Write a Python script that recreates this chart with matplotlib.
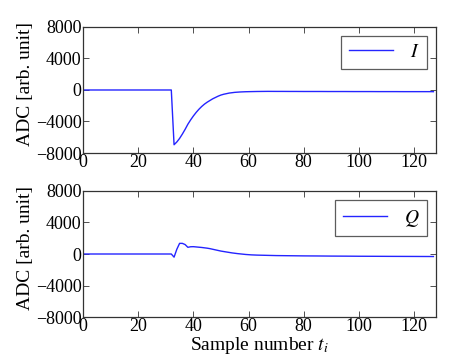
"""ADC I/Q traces vs sample number"""
import numpy as np
import matplotlib
matplotlib.use("Agg")
import matplotlib.pyplot as plt

plt.rcParams['font.family'] = ['Liberation Serif', 'DejaVu Serif']
plt.rcParams['mathtext.fontset'] = 'stix'
plt.rcParams['xtick.direction'] = 'in'
plt.rcParams['ytick.direction'] = 'in'
plt.rcParams['xtick.top'] = True
plt.rcParams['ytick.right'] = True

# sample index
samples = np.arange(128)

# I channel (arb. unit)
i_values = [0] * 33 + [
    -6950, -6600, -6150, -5600, -5000, -4350, -3800, -3300, -2850, -2450,   # 33-42
    -2100, -1800, -1550, -1330, -1120, -950, -780, -640, -540, -460,       # 43-52
    -390, -340, -300, -270, -250, -230, -220, -210, -200, -195,            # 53-62
    -190, -185, -180, -180, -175, -180, -185, -180, -175, -180,            # 63-72
    -185, -190, -185, -180, -185, -190, -195, -190, -185, -190,            # 73-82
    -195, -190, -185, -190, -195, -200, -195, -190, -195, -200,            # 83-92
    -195, -190, -195, -200, -205, -200, -195, -200, -205, -200,            # 93-102
    -195, -200, -205, -210, -205, -200, -205, -210, -205, -200,            # 103-112
    -205, -210, -215, -210, -205, -210, -215, -210, -205, -210,            # 113-122
    -215, -210, -205, -210, -215,                                          # 123-127
]

# Q channel (arb. unit)
q_values = [0] * 33 + [
    -400, 600, 1350, 1350, 1200, 850, 920, 930, 900, 870,                  # 33-42
    830, 790, 740, 680, 600, 520, 440, 370, 310, 250,                      # 43-52
    190, 140, 90, 50, 10, -30, -60, -90, -110, -130,                       # 53-62
    -140, -150, -160, -170, -180, -190, -195, -200, -205, -210,            # 63-72
    -215, -220, -220, -225, -230, -230, -235, -240, -240, -245,            # 73-82
    -245, -250, -250, -255, -255, -260, -260, -265, -265, -270,            # 83-92
    -270, -270, -275, -275, -280, -280, -280, -285, -285, -285,            # 93-102
    -290, -290, -290, -295, -295, -295, -300, -300, -300, -300,            # 103-112
    -305, -305, -305, -305, -310, -310, -310, -310, -315, -315,            # 113-122
    -315, -315, -320, -320, -320,                                          # 123-127
]

y_ticks = [-8000, -4000, 0, 4000, 8000]
x_ticks = [0, 20, 40, 60, 80, 100, 120]

fig = plt.figure(figsize=(4.69, 3.55), dpi=100)
ax_i = fig.add_axes([0.177, 0.569, 0.753, 0.355])
ax_q = fig.add_axes([0.177, 0.107, 0.753, 0.355])

for ax, vals, lab in [(ax_i, i_values, r'$I$'), (ax_q, q_values, r'$Q$')]:
    ax.plot(samples, vals, color='#2424ff', linewidth=1.0, label=lab)
    ax.set_xlim(0, 128)
    ax.set_ylim(-8000, 8000)
    ax.set_xticks(x_ticks)
    ax.set_yticks(y_ticks)
    ax.tick_params(labelsize=13, length=4, width=0.6, pad=1, color='#333333')
    ax.set_ylabel('ADC [arb. unit]', fontsize=14)
    ax.yaxis.set_label_coords(-0.14, 0.55)
    for sp in ax.spines.values():
        sp.set_linewidth(0.9)
        sp.set_color('#333333')
    leg = ax.legend(loc='upper right', fontsize=14, fancybox=False,
                    handlelength=2.3, borderpad=0.4, borderaxespad=0.45,
                    handletextpad=0.85)
    leg.get_frame().set_edgecolor('#333333')
    leg.get_frame().set_linewidth(0.9)

ax_q.set_xlabel(r'Sample number $t_i$', fontsize=14, labelpad=0)

fig.savefig("out.png", dpi=100, facecolor='white')
